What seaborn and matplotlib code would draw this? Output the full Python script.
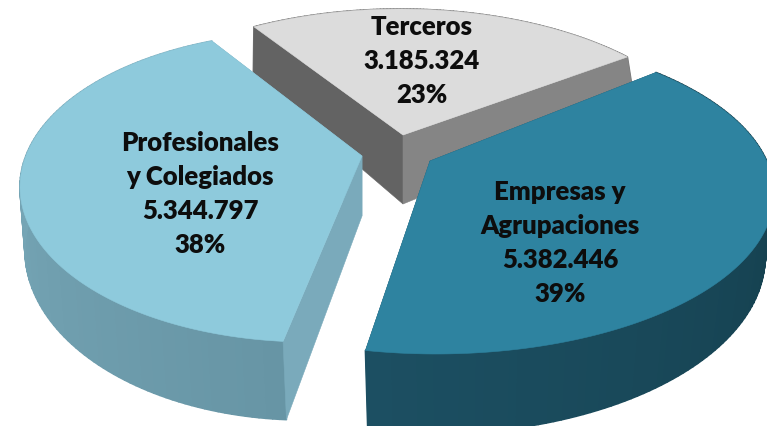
import numpy as np
import seaborn as sns
import matplotlib
matplotlib.use("Agg")
import matplotlib.pyplot as plt
from matplotlib.collections import PolyCollection
from matplotlib.patches import Polygon

sns.set_theme(style="white")
plt.rcParams['font.family'] = ['Lato', 'DejaVu Sans']

names = [["Terceros"], ["Empresas y", "Agrupaciones"], ["Profesionales", "y Colegiados"]]
values = [3185324, 5382446, 5344797]

# projection of every slice: surface ellipses (cx, cy, a, b) and slice tip (x, y)
top_geo = [(400, 172, 320, 162, 403, 136), (436, 195, 338, 160, 430, 162), (309, 188, 289, 155, 362, 157)]
bot_geo = [(412, 222, 295, 172, 403, 205), (430, 258, 335, 177, 430, 225), (305, 251, 280, 170, 362, 217)]
starts = [-34.2, 49.8, 193.8]
stretch = [1.08, 0.9985, 0.952]
top_cols = ["#dcdcdc", "#2e83a0", "#8ecadc"]
wall_cols = [("#777777", "#777777"), ("#113844", "#1c4f62"), ("#6795a5", "#82b3c3")]
start_cut = ["#636363", "#1c4f62", "#7aaabb"]
end_cut = ["#858585", "#1c4f62", "#7aaabb"]
label_pos = [(422, 27), (560, 192), (200, 143)]
line_step = 34


def project(theta, geo):
    cx, cy, a, b, tx, ty = geo
    px, py = (tx - cx) / a, (ty - cy) / b
    u, v = np.sin(theta), -np.cos(theta)
    p2 = px**2 + py**2
    g = np.sqrt(1 - p2)
    dot = u * px + v * py
    parx, pary = dot / p2 * px, dot / p2 * py
    x = (parx + px + g * (u - parx)) / (1 + dot)
    y = (pary + py + g * (v - pary)) / (1 + dot)
    return cx + a * x, cy + b * y


fig = plt.figure(figsize=(7.67, 4.27), dpi=100)
ax = fig.add_axes([0, 0, 1, 1])
ax.set_xlim(0, 767)
ax.set_ylim(427, 0)
ax.axis("off")

total = sum(values)
for i in range(3):
    sweep = values[i] / total * 2 * np.pi * stretch[i]
    th = np.linspace(np.radians(starts[i]), np.radians(starts[i]) + sweep, 120)
    tx, ty = project(th, top_geo[i])
    bx, by = project(th, bot_geo[i])
    tip_t = top_geo[i][4:]
    tip_b = bot_geo[i][4:]
    pal = sns.blend_palette(wall_cols[i], n_colors=len(th) - 1)
    quads = [[(tx[k], ty[k]), (tx[k + 1], ty[k + 1]), (bx[k + 1], by[k + 1]), (bx[k], by[k])]
             for k in range(len(th) - 1)]
    ax.add_collection(PolyCollection(quads, facecolors=pal, edgecolors=pal, linewidths=1.2, zorder=i * 10 + 1))
    ax.add_patch(Polygon([tip_t, (tx[0], ty[0]), (bx[0], by[0]), tip_b], fc=start_cut[i], ec=start_cut[i], lw=0.4, zorder=i * 10 + 2))
    ax.add_patch(Polygon([tip_t, (tx[-1], ty[-1]), (bx[-1], by[-1]), tip_b], fc=end_cut[i], ec=end_cut[i], lw=0.4, zorder=i * 10 + 2))
    ax.add_patch(Polygon([tip_t] + list(zip(tx, ty)), fc=top_cols[i], ec=top_cols[i], lw=0.4, zorder=i * 10 + 3))

for i in range(3):
    lines = names[i] + [f"{values[i]:,}".replace(",", "."), f"{round(values[i] / total * 100)}%"]
    x, y = label_pos[i]
    for j, s in enumerate(lines):
        ax.text(x, y + j * line_step, s, ha="center", va="center", fontsize=18.5, fontweight="heavy", color="#0d0d0d", zorder=100)

fig.savefig("out.png", dpi=100, facecolor="white")
